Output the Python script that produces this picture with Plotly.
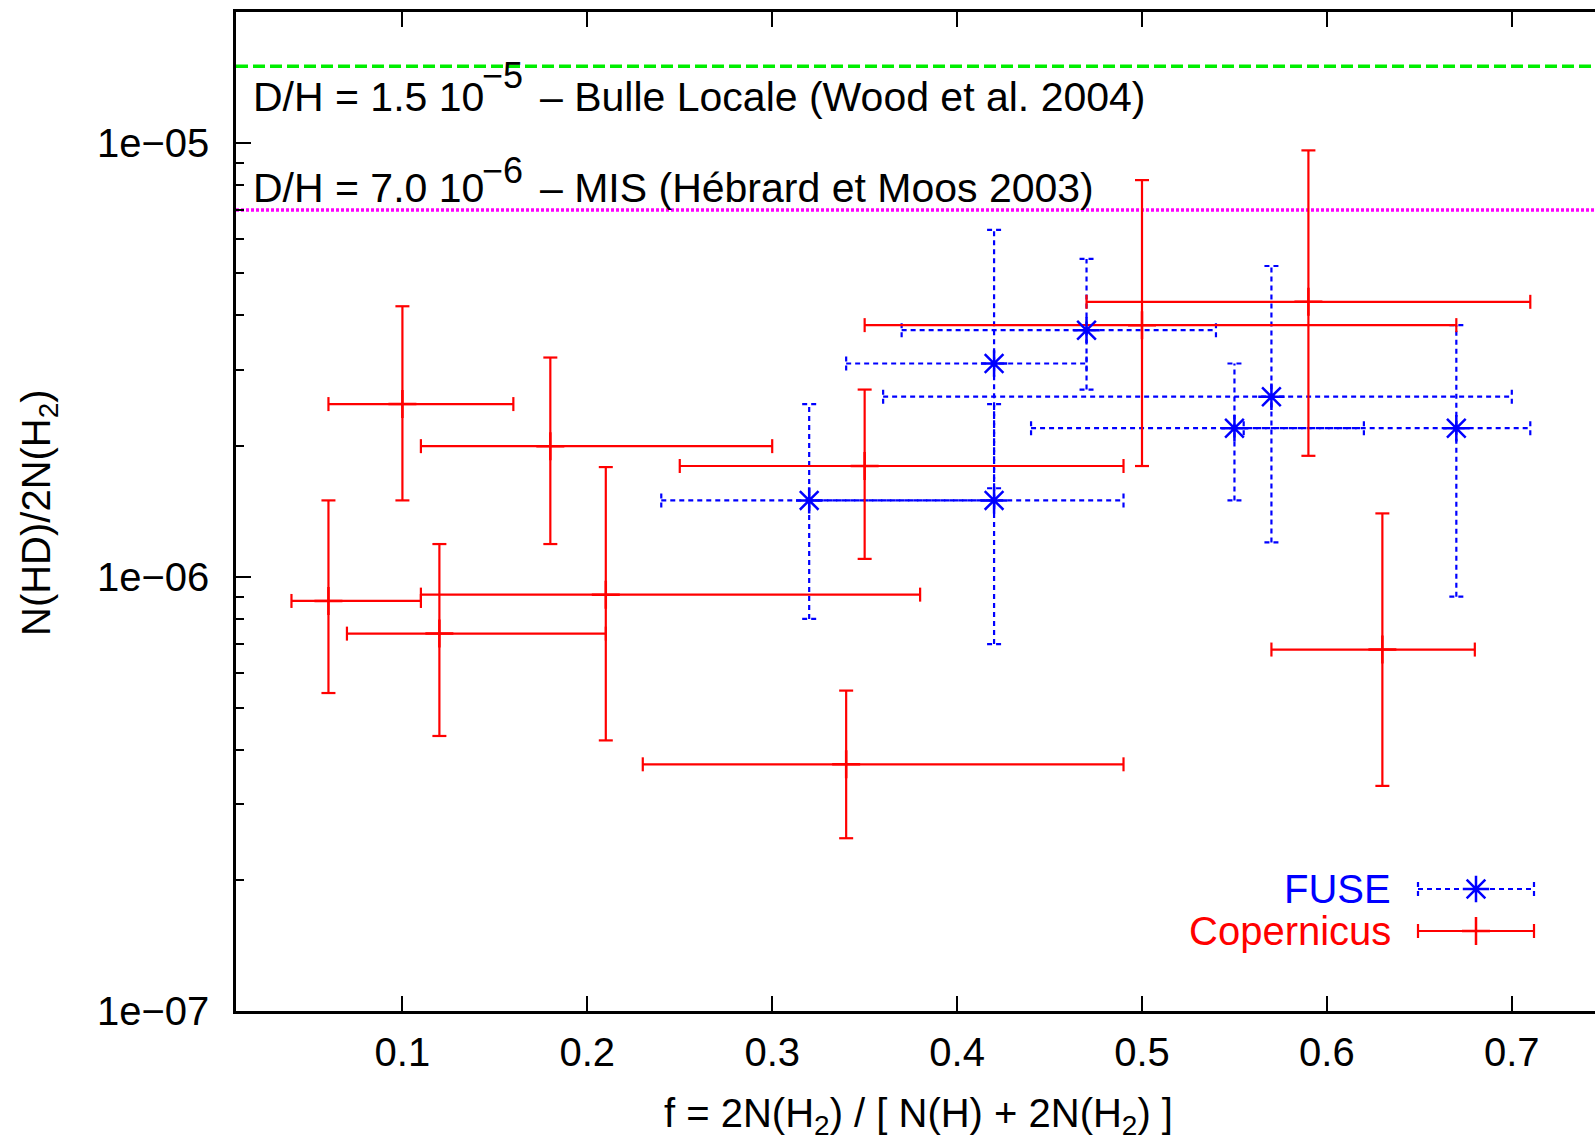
import plotly.graph_objects as go
import math

# ---------------- data ----------------
# Copernicus (red, solid error bars)
cop_x   = [0.10, 0.18, 0.06, 0.12, 0.21, 0.35, 0.34, 0.50, 0.59, 0.63]
cop_xlo = [0.06, 0.11, 0.04, 0.07, 0.11, 0.25, 0.23, 0.35, 0.47, 0.57]
cop_xhi = [0.16, 0.30, 0.11, 0.21, 0.38, 0.49, 0.49, 0.67, 0.71, 0.68]
cop_y   = [2.5e-6, 2.0e-6, 8.8e-7, 7.4e-7, 9.1e-7, 1.8e-6, 3.7e-7, 3.8e-6, 4.3e-6, 6.8e-7]
cop_ylo = [1.5e-6, 1.19e-6, 5.4e-7, 4.3e-7, 4.2e-7, 1.1e-6, 2.5e-7, 1.8e-6, 1.9e-6, 3.3e-7]
cop_yhi = [4.2e-6, 3.2e-6, 1.5e-6, 1.19e-6, 1.79e-6, 2.7e-6, 5.47e-7, 8.2e-6, 9.6e-6, 1.4e-6]

# FUSE (blue, dotted error bars)
fuse_x   = [0.32, 0.42, 0.42, 0.47, 0.55, 0.57, 0.67]
fuse_xlo = [0.24, 0.32, 0.34, 0.37, 0.44, 0.36, 0.555]
fuse_xhi = [0.42, 0.49, 0.47, 0.54, 0.62, 0.70, 0.71]
fuse_y   = [1.5e-6, 1.5e-6, 3.1e-6, 3.7e-6, 2.2e-6, 2.6e-6, 2.2e-6]
fuse_ylo = [8.0e-7, 7.0e-7, 1.6e-6, 2.7e-6, 1.5e-6, 1.2e-6, 9.0e-7]
fuse_yhi = [2.5e-6, 2.5e-6, 6.3e-6, 5.4e-6, 3.1e-6, 5.2e-6, 3.8e-6]

# reference D/H levels and their labels
dh_local = 1.5e-5
dh_mis = 7.0e-6
dh_local_text = ["D/H = 1.5 10", "\u22125", "\u2013 Bulle Locale (Wood et al. 2004)"]
dh_mis_text = ["D/H = 7.0 10", "\u22126", "\u2013 MIS (H\u00e9brard et Moos 2003)"]

y_ticks = [1e-7, 1e-6, 1e-5]
y_ticktext = ["1e\u221207", "1e\u221206", "1e\u221205"]
x_ticks = [0.1, 0.2, 0.3, 0.4, 0.5, 0.6, 0.7]

# ---------------- layout constants ----------------
W, H = 1595, 1140
L, R, T, B = 236, 0, 12, 129
X0, X1 = 0.01, 0.745
Y0, Y1 = 1e-7, 2e-5
PW = W - L - R
PH = H - T - B
FONT = "Liberation Sans, Arial, Helvetica, sans-serif"
FS = 40
FS_DH = 41
CAP = 7  # half cap size in px

dx_cap = CAP / PW * (X1 - X0)
dlog_cap = CAP / PH * (math.log10(Y1) - math.log10(Y0))


def px(xp):
    return (xp - L) / PW


def py(yp):
    return (H - B - yp) / PH


def errbar_segments(xs, xlo, xhi, ys, ylo, yhi):
    sx, sy = [], []
    fy = 10 ** dlog_cap
    for x, a, b, y, c, d in zip(xs, xlo, xhi, ys, ylo, yhi):
        sx += [a, b, None]; sy += [y, y, None]
        sx += [x, x, None]; sy += [c, d, None]
        sx += [a, a, None, b, b, None]; sy += [y / fy, y * fy, None, y / fy, y * fy, None]
        sx += [x - dx_cap, x + dx_cap, None, x - dx_cap, x + dx_cap, None]
        sy += [c, c, None, d, d, None]
    return sx, sy


fig = go.Figure()

RED = "#ff0000"
BLUE = "#0000ff"

# reference lines
fig.add_trace(go.Scatter(x=[X0, X1], y=[dh_local, dh_local], mode="lines",
                         line=dict(color="#00ee00", width=3.5, dash="12px,5px"),
                         hoverinfo="skip", showlegend=False))
fig.add_trace(go.Scatter(x=[X0, X1], y=[dh_mis, dh_mis], mode="lines",
                         line=dict(color="#ff00ff", width=3.5, dash="3px,2px"),
                         hoverinfo="skip", showlegend=False))

# FUSE
fx, fy_ = errbar_segments(fuse_x, fuse_xlo, fuse_xhi, fuse_y, fuse_ylo, fuse_yhi)
fig.add_trace(go.Scatter(x=fx, y=fy_, mode="lines",
                         line=dict(color=BLUE, width=2.2, dash="5px,4px"),
                         hoverinfo="skip", showlegend=False))
# Copernicus
cx, cy = errbar_segments(cop_x, cop_xlo, cop_xhi, cop_y, cop_ylo, cop_yhi)
fig.add_trace(go.Scatter(x=cx, y=cy, mode="lines",
                         line=dict(color=RED, width=2.2),
                         hoverinfo="skip", showlegend=False))
fig.add_trace(go.Scatter(x=cop_x, y=cop_y, mode="markers", name="Copernicus",
                         marker=dict(symbol="cross-thin", size=20, color=RED,
                                     line=dict(color=RED, width=2.5)),
                         showlegend=False))
fig.add_trace(go.Scatter(x=fuse_x, y=fuse_y, mode="markers", name="FUSE",
                         marker=dict(symbol="asterisk", size=22, color=BLUE,
                                     line=dict(color=BLUE, width=2.5)),
                         showlegend=False))

# ---------------- legend (drawn on a pixel overlay axis) ----------------
leg_x0, leg_x1, leg_xc = 1418, 1534, 1476
leg_rows = [("FUSE", 889, BLUE, "5px,4px", "asterisk", 22),
            ("Copernicus", 931, RED, "solid", "cross-thin", 20)]
for name, ly, col, dash, sym, msz in leg_rows:
    lx = [leg_x0, leg_x1, None, leg_x0, leg_x0, None, leg_x1, leg_x1]
    lyv = [ly, ly, None, ly - CAP, ly + CAP, None, ly - CAP, ly + CAP]
    fig.add_trace(go.Scatter(x=lx, y=lyv, xaxis="x2", yaxis="y2", mode="lines",
                             line=dict(color=col, width=2.2, dash=dash),
                             hoverinfo="skip", showlegend=False))
    fig.add_trace(go.Scatter(x=[leg_xc], y=[ly], xaxis="x2", yaxis="y2", mode="markers",
                             marker=dict(symbol=sym, size=msz, color=col,
                                         line=dict(color=col, width=2.5)),
                             hoverinfo="skip", showlegend=False))
    fig.add_annotation(x=px(1393), y=py(ly), xref="paper", yref="paper", text=name,
                       showarrow=False, xanchor="right", yanchor="middle",
                       font=dict(family=FONT, size=FS, color=col))

# D/H labels: main text, superscript, remainder
for parts, base, sup_drop in ((dh_local_text, 111.5, 0), (dh_mis_text, 202.0, 4)):
    fig.add_annotation(x=px(251), y=py(base - 0.3465 * FS_DH), xref="paper", yref="paper",
                       text=parts[0], showarrow=False, xanchor="left", yanchor="middle",
                       font=dict(family=FONT, size=FS_DH, color="black"))
    fig.add_annotation(x=px(480), y=py(base - 23.5 + sup_drop - 0.3465 * 36),
                       xref="paper", yref="paper",
                       text=parts[1], showarrow=False, xanchor="left", yanchor="middle",
                       font=dict(family=FONT, size=36, color="black"))
    fig.add_annotation(x=px(538), y=py(base - 0.3465 * FS_DH), xref="paper", yref="paper",
                       text=parts[2], showarrow=False, xanchor="left", yanchor="middle",
                       font=dict(family=FONT, size=FS_DH, color="black"))

# axis titles
fig.add_annotation(x=px(918), y=py(1116), xref="paper", yref="paper",
                   text="f = 2N(H<sub>2</sub>) / [ N(H) + 2N(H<sub>2</sub>) ]",
                   showarrow=False, xanchor="center", yanchor="middle",
                   font=dict(family=FONT, size=FS, color="black"))
fig.add_annotation(x=px(39), y=py(513), xref="paper", yref="paper",
                   text="N(HD)/2N(H<sub>2</sub>)", textangle=-90,
                   showarrow=False, xanchor="center", yanchor="middle",
                   font=dict(family=FONT, size=FS, color="black"))

minor_vals = [m * 10 ** e for e in (-7, -6, -5) for m in range(2, 10) if m * 10 ** e < Y1]

fig.update_layout(
    width=W, height=H,
    margin=dict(l=L, r=R, t=T, b=B, pad=0),
    paper_bgcolor="white", plot_bgcolor="white",
    font=dict(family=FONT, size=FS, color="black"),
    showlegend=False,
    xaxis=dict(range=[X0, X1], tickvals=x_ticks, ticktext=[f"{v:.1f}" for v in x_ticks],
               ticks="inside", ticklen=15, tickwidth=2, tickcolor="black",
               showline=True, linecolor="black", linewidth=2.5, mirror="ticks",
               showgrid=False, zeroline=False, ticklabelstandoff=4,
               tickfont=dict(family=FONT, size=FS)),
    yaxis=dict(type="log", range=[math.log10(Y0), math.log10(Y1)],
               tickvals=y_ticks, ticktext=y_ticktext,
               ticks="inside", ticklen=15, tickwidth=2, tickcolor="black",
               showline=True, linecolor="black", linewidth=2.5,
               showgrid=False, zeroline=False, ticklabelstandoff=16,
               tickfont=dict(family=FONT, size=FS),
               minor=dict(tickvals=minor_vals, ticks="inside", ticklen=8,
                          tickwidth=2, tickcolor="black", showgrid=False)),
    xaxis2=dict(range=[L, W - R], overlaying="x", visible=False, fixedrange=True),
    yaxis2=dict(range=[H - B, T], overlaying="y", visible=False, fixedrange=True),
)

fig.write_html("out.html")
